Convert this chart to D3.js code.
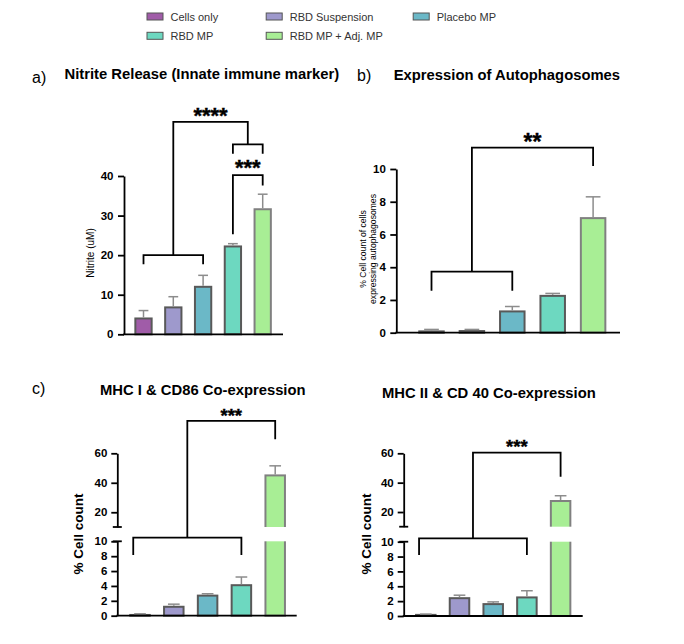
<!DOCTYPE html>
<html>
<head>
<meta charset="utf-8">
<script src="https://cdn.jsdelivr.net/npm/d3@7"></script>
<style>
  body { margin: 0; background: #fff; }
  text { font-family: "Liberation Sans", Arial, sans-serif; }
</style>
</head>
<body>
<svg id="chart" width="684" height="644"></svg>
<script>
// groups shared by all four panels
const groups = ["Cells only", "RBD Suspension", "Placebo MP", "RBD MP", "RBD MP + Adj. MP"];
const groupColors = ["#a05ca8", "#9e99cc", "#6bb8c7", "#6dd8c0", "#a8ee95"];

// a) nitrite (uM)
const nitriteMean = [4.0, 6.8, 12.0, 22.2, 31.6];
const nitriteSd = [2.0, 2.7, 2.9, 0.7, 3.8];
const nitriteTicks = [0, 10, 20, 30, 40];

// b) autophagosomes (%)
const autoMean = [0.08, 0.1, 1.3, 2.25, 7.0];
const autoSd = [0.12, 0.1, 0.3, 0.15, 1.3];
const autoTicks = [0, 2, 4, 6, 8, 10];

// c) MHC I & CD86, d) MHC II & CD40 (%)
const mhc1Mean = [0.1, 1.2, 2.7, 4.1, 45.0];
const mhc1Sd = [0.15, 0.35, 0.25, 1.1, 6.5];
const mhc2Mean = [0.15, 2.4, 1.6, 2.5, 27.5];
const mhc2Sd = [0.1, 0.4, 0.3, 0.9, 3.6];
const lowTicks = [0, 2, 4, 6, 8, 10];
const highTicks = [20, 40, 60];

// significance brackets: x in group index units, y in data units
const nitriteBrackets = [
  {x1: 0, x2: 2, y: 20, l1: 17.7, l2: 17.7},
  {x1: 3, x2: 4, y: 48, l1: 45.6, l2: 45.6},
  {x1: 1, x2: 3.5, y: 53.7, l1: 20, l2: 48},
  {x1: 3, x2: 4, y: 40.2, l1: 25.3, l2: 37.6}
];
const nitriteStars = [{x: 2.25, y: 56.4, t: "****"}, {x: 3.5, y: 43.3, t: "***"}];

const autoBrackets = [
  {x1: 0, x2: 2, y: 3.73, l1: 2.57, l2: 2.57},
  {x1: 1, x2: 4, y: 11.3, l1: 3.73, l2: 10.18}
];
const autoStars = [{x: 2.5, y: 11.92, t: "**"}];

const mhc1Brackets = [
  {x1: -0.2, x2: 3, y: 10.5, l1: 8.15, l2: 8.15},
  {x1: 1.4, x2: 4, y: 82, l1: 10.5, l2: 69.5}
];
const mhc1Stars = [{x: 2.7, y: 88.2, t: "***"}];

const mhc2Brackets = [
  {x1: -0.2, x2: 3, y: 10.46, l1: 8.2, l2: 8.2},
  {x1: 1.4, x2: 4, y: 60.4, l1: 10.46, l2: 44.1}
];
const mhc2Stars = [{x: 2.7, y: 67.1, t: "***"}];

const svg = d3.select("#chart");
svg.append("rect").attr("width", 684).attr("height", 644).attr("fill", "#fff");

// ---- legend ----
const legendCols = [146.5, 265.7, 412.7];
const legendRows = [16.5, 35.8];
const legendPos = [[0, 0], [1, 0], [2, 0], [0, 1], [1, 1]];
const legend = svg.append("g");
groups.forEach((g, i) => {
  const [c, r] = legendPos[i];
  const item = legend.append("g")
    .attr("transform", `translate(${legendCols[c]}, ${legendRows[r]})`);
  item.append("rect")
    .attr("x", 0.5).attr("y", -3.5)
    .attr("width", 16).attr("height", 7)
    .attr("fill", groupColors[i])
    .attr("stroke", "#555").attr("stroke-width", 1);
  item.append("text")
    .attr("x", 24).attr("y", 4)
    .attr("font-size", 11).attr("fill", "#333")
    .text(g);
});

// ---- panel helper ----
function drawPanel(p) {
  const g = svg.append("g");
  const x = d3.scaleBand()
    .domain(d3.range(groups.length))
    .range([p.c0 - p.step / 2, p.c0 + (groups.length - 0.5) * p.step])
    .paddingInner(1 - p.bw / p.step)
    .paddingOuter((1 - p.bw / p.step) / 2);
  const cx = i => p.c0 + i * p.step;
  const yv = p.yv;
  const y0 = yv(0);

  // bars
  g.selectAll(".bar")
    .data(p.mean)
    .join("rect")
    .attr("class", "bar")
    .attr("x", (d, i) => x(i))
    .attr("y", d => yv(d))
    .attr("width", x.bandwidth())
    .attr("height", d => y0 - yv(d))
    .attr("fill", (d, i) => groupColors[i])
    .attr("stroke", (d, i) => i === 4 ? "#808080" : "#595959")
    .attr("stroke-width", 2);

  // axis break gap over tall bars
  if (p.high) {
    p.mean.forEach((d, i) => {
      if (d > p.breakAt) {
        g.append("rect")
          .attr("x", x(i) - 3).attr("width", x.bandwidth() + 6)
          .attr("y", p.high(p.breakAt)).attr("height", p.low(p.breakAt) - p.high(p.breakAt))
          .attr("fill", "#fff");
      }
    });
  }

  // error bars (upper only)
  const capW = x.bandwidth() * 0.6;
  p.mean.forEach((d, i) => {
    const top = yv(d + p.sd[i]);
    g.append("line")
      .attr("x1", cx(i)).attr("x2", cx(i))
      .attr("y1", yv(d) - 1).attr("y2", top)
      .attr("stroke", "#8c8c8c").attr("stroke-width", 1.5);
    g.append("line")
      .attr("x1", cx(i) - capW / 2).attr("x2", cx(i) + capW / 2)
      .attr("y1", top).attr("y2", top)
      .attr("stroke", "#8c8c8c").attr("stroke-width", 1.5);
  });

  // y axis
  const styleAxis = sel => {
    sel.select(".domain").attr("stroke", "#000").attr("stroke-width", 1.8);
    sel.selectAll(".tick line").attr("stroke", "#000").attr("stroke-width", 1.8);
    sel.selectAll(".tick text")
      .attr("font-family", "Liberation Sans, Arial, sans-serif")
      .attr("font-size", 11.5).attr("font-weight", "bold").attr("fill", "#000");
  };
  if (p.high) {
    g.append("g")
      .attr("transform", `translate(${p.axisX},0)`)
      .call(d3.axisLeft(p.low).tickValues(lowTicks).tickSize(6).tickSizeOuter(0).tickPadding(4))
      .call(styleAxis);
    g.append("g")
      .attr("transform", `translate(${p.axisX},0)`)
      .call(d3.axisLeft(p.high).tickValues(highTicks).tickSize(6).tickSizeOuter(0).tickPadding(4))
      .call(styleAxis);
    [p.high(p.breakAt), p.low(p.breakAt)].forEach(yy => {
      g.append("line")
        .attr("x1", p.axisX - 4.5).attr("x2", p.axisX + 4.5)
        .attr("y1", yy).attr("y2", yy)
        .attr("stroke", "#000").attr("stroke-width", 1.8);
    });
  } else {
    g.append("g")
      .attr("transform", `translate(${p.axisX},0)`)
      .call(d3.axisLeft(p.y).tickValues(p.ticks).tickSize(6).tickSizeOuter(0).tickPadding(4.5))
      .call(styleAxis);
  }

  // x axis baseline
  g.append("line")
    .attr("x1", p.axisX - 0.9).attr("x2", p.axisEnd)
    .attr("y1", y0).attr("y2", y0)
    .attr("stroke", "#000").attr("stroke-width", 1.8);

  // brackets
  const gx = v => p.c0 + v * p.step;
  g.selectAll(".bracket")
    .data(p.brackets)
    .join("path")
    .attr("class", "bracket")
    .attr("d", b => `M${gx(b.x1)},${yv(b.l1)}V${yv(b.y)}H${gx(b.x2)}V${yv(b.l2)}`)
    .attr("fill", "none")
    .attr("stroke", "#000").attr("stroke-width", 1.8);

  g.selectAll(".stars")
    .data(p.stars)
    .join("text")
    .attr("class", "stars")
    .attr("x", s => gx(s.x))
    .attr("y", s => yv(s.y) + p.starSize * 0.56)
    .attr("text-anchor", "middle")
    .attr("font-size", p.starSize).attr("font-weight", "bold")
    .attr("stroke", "#000").attr("stroke-width", 0.4)
    .text(s => s.t);

  // y label
  p.ylabel.forEach((line, k) => {
    g.append("text")
      .attr("transform", `translate(${p.ylabelX[k]},${p.ylabelY}) rotate(-90)`)
      .attr("text-anchor", "middle")
      .attr("dominant-baseline", "central")
      .attr("font-size", p.ylabelSize)
      .attr("font-weight", p.ylabelWeight)
      .text(line);
  });

  // titles
  g.append("text")
    .attr("x", p.tagX).attr("y", p.tagY)
    .attr("font-family", "Open Sans, sans-serif")
    .attr("font-size", 16)
    .text(p.tag);
  g.append("text")
    .attr("x", p.titleX).attr("y", p.titleY)
    .attr("font-size", 14.8).attr("font-weight", "bold")
    .text(p.title);
}

// a)
const yA = d3.scaleLinear().domain([0, 40]).range([334.3, 176]);
drawPanel({
  mean: nitriteMean, sd: nitriteSd, y: yA, yv: yA, ticks: nitriteTicks,
  c0: 143.5, step: 29.8, bw: 16.3, axisX: 124, axisEnd: 283,
  brackets: nitriteBrackets, stars: nitriteStars, starSize: 22,
  ylabel: ["Nitrite (uM)"], ylabelX: [90.7], ylabelY: 253, ylabelSize: 10, ylabelWeight: "normal",
  tag: "a)", tagX: 32, tagY: 83, title: "Nitrite Release (Innate immune marker)", titleX: 64.5, titleY: 78.5
});

// b)
const yB = d3.scaleLinear().domain([0, 10]).range([332.7, 169]);
drawPanel({
  mean: autoMean, sd: autoSd, y: yB, yv: yB, ticks: autoTicks,
  c0: 431.5, step: 40.4, bw: 24.5, axisX: 396.3, axisEnd: 620,
  brackets: autoBrackets, stars: autoStars, starSize: 23,
  ylabel: ["% Cell count of cells", "expressing autophagosomes"], ylabelX: [363, 373], ylabelY: 249,
  ylabelSize: 8.6, ylabelWeight: "normal",
  tag: "b)", tagX: 357, tagY: 81, title: "Expression of Autophagosomes", titleX: 393.7, titleY: 80
});

// c)
const lowC = d3.scaleLinear().domain([0, 10]).range([615.7, 541.3]);
const highC = d3.scaleLinear().domain([10, 60]).range([527, 453.3]);
drawPanel({
  mean: mhc1Mean, sd: mhc1Sd, low: lowC, high: highC, breakAt: 10,
  yv: v => v <= 11 ? lowC(v) : highC(v),
  c0: 140, step: 33.8, bw: 19.5, axisX: 117.3, axisEnd: 296.7,
  brackets: mhc1Brackets, stars: mhc1Stars, starSize: 18.5,
  ylabel: ["% Cell count"], ylabelX: [78.7], ylabelY: 534, ylabelSize: 13.5, ylabelWeight: "bold",
  tag: "c)", tagX: 32, tagY: 394, title: "MHC I & CD86 Co-expression", titleX: 100, titleY: 395
});

// d)
const lowD = d3.scaleLinear().domain([0, 10]).range([616, 541.7]);
const highD = d3.scaleLinear().domain([10, 60]).range([526.7, 453.3]);
drawPanel({
  mean: mhc2Mean, sd: mhc2Sd, low: lowD, high: highD, breakAt: 10,
  yv: v => v <= 11 ? lowD(v) : highD(v),
  c0: 425.8, step: 33.7, bw: 19.5, axisX: 403.7, axisEnd: 582.7,
  brackets: mhc2Brackets, stars: mhc2Stars, starSize: 18.5,
  ylabel: ["% Cell count"], ylabelX: [366], ylabelY: 534, ylabelSize: 13.5, ylabelWeight: "bold",
  tag: "", tagX: 0, tagY: 0, title: "MHC II & CD 40 Co-expression", titleX: 382, titleY: 398
});
</script>
</body>
</html>
